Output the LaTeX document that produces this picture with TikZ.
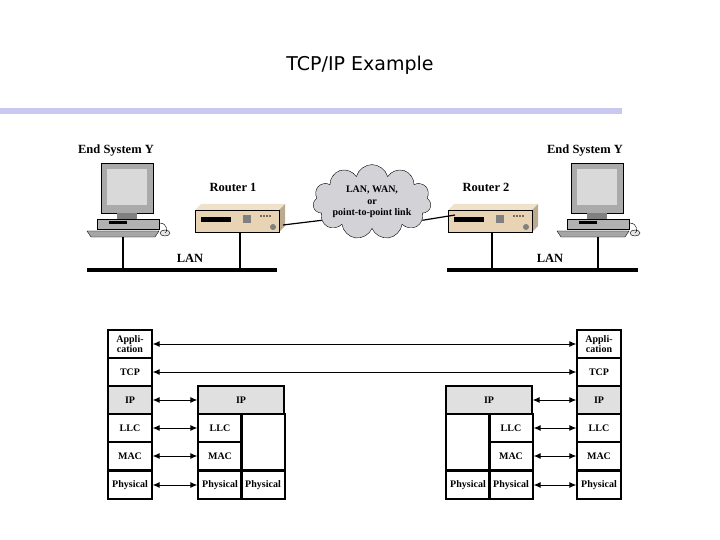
\documentclass[tikz,border=0pt]{standalone}
\usepackage{fontspec}
\setmainfont{Liberation Serif}
\newfontfamily\titlefont{DejaVu Sans}
\usetikzlibrary{shapes.symbols,arrows.meta}
\definecolor{barc}{RGB}{200,200,240}
\definecolor{beige}{RGB}{232,212,180}
\definecolor{cloudc}{RGB}{210,210,215}
\definecolor{ipgray}{RGB}{224,224,224}
\definecolor{pcgray}{RGB}{170,170,170}
\tikzset{
 lay/.style={draw,line width=1.2pt,minimum width=#1,minimum height=28pt,inner sep=0pt,font=\bfseries\fontsize{10}{10.5}\selectfont,align=center},
 lay/.default=44pt,
 lbl/.style={font=\bfseries\fontsize{12.5}{14}\selectfont},
 arr/.style={line width=1pt,{Latex[length=7pt,width=6pt]}-{Latex[length=7pt,width=6pt]}},
 bar/.style={line width=3.5pt},
 wire/.style={line width=1.2pt}
}
\newcommand{\pc}[2]{%
 \begin{scope}[shift={(#1,#2)}]
 \fill[pcgray] (14,0) rectangle (66,50);
 \fill[gray!30] (20,6) rectangle (60,42);
 \draw (14,0) rectangle (66,50);
 \fill[gray] (30,50) rectangle (50,56);
 \fill[gray!60,draw=black,thin] (10,56) rectangle (72,66);
 \fill[black] (22,58) rectangle (40,61);
 \fill[gray!70,draw=black,thin] (0,68) -- (72,68) -- (68,74) -- (4,74) -- cycle;
 \fill[gray!20,draw=black,thin] (78,70) ellipse (5 and 3);
 \draw[thin] (72,60) .. controls (82,60) and (80,70) .. (78,70);
 \end{scope}}
\newcommand{\router}[2]{%
 \begin{scope}[shift={(#1,#2)}]
 \fill[beige!70] (0,0) -- (6,-6) -- (90,-6) -- (84,0) -- cycle;
 \fill[beige] (0,0) rectangle (84,22);
 \fill[beige!80!black] (84,0) -- (90,-6) -- (90,16) -- (84,22) -- cycle;
 \draw (0,0) rectangle (84,22);
 \fill[black] (6,7) rectangle (36,12);
 \fill[gray] (48,5) rectangle (56,13);
 \foreach \i in {66,69,72,75} \fill (\i,6) circle (0.8);
 \fill[gray] (78,17) circle (3);
 \end{scope}}
\begin{document}
\begin{tikzpicture}[x=1pt,y=-1pt]
\useasboundingbox (0,0) rectangle (720,540);
\node[font=\titlefont\fontsize{19}{22}\selectfont] (title) at (360,65) {TCP/IP Example};
\fill[barc] (0,108) rectangle (622,114);
% top network
\node[lbl] (esl) at (116,151) {End System Y};
\node[lbl] (esr) at (585,151) {End System Y};
\node[lbl] (r1l) at (233,187) {Router 1};
\node[lbl] (r2l) at (486,187) {Router 2};
\pc{87}{163}
\pc{557}{163}
\router{195}{210}
\router{448}{210}
\node[cloud,cloud puffs=11,aspect=2.1,draw,fill=cloudc,minimum width=116pt,minimum height=62pt,inner sep=0pt,align=center,font=\bfseries\fontsize{10}{11.5}\selectfont] (cloud) at (372,202) {LAN, WAN,\\or\\point-to-point link};
\coordinate (r1p) at (283,225);
\coordinate (r2p) at (455,215);
\draw[wire] (r1p) -- (cloud.200);
\draw[wire] (cloud.340) -- (r2p);
\draw[bar] (87,270) -- (277,270);
\draw[bar] (447,270) -- (638,270);
\draw[wire] (123,237) -- (123,270);
\draw[wire] (240,232) -- (240,270);
\draw[wire] (492,232) -- (492,270);
\draw[wire] (598,237) -- (598,270);
\node[lbl] (lan1) at (190,258) {LAN};
\node[lbl] (lan2) at (550,258) {LAN};
% stacks
\foreach \s/\x in {L/130,R/599}{
 \node[lay] (\s a) at (\x,344) {Appli-\\cation};
 \node[lay] (\s t) at (\x,372) {TCP};
 \node[lay,fill=ipgray] (\s i) at (\x,400) {IP};
 \node[lay] (\s l) at (\x,428) {LLC};
 \node[lay] (\s m) at (\x,456) {MAC};
 \node[lay] (\s p) at (\x,485) {Physical};
}
% router 1 stack
\node[lay=86pt,fill=ipgray] (Ai) at (241,400) {IP};
\node[lay] (Al) at (220,428) {LLC};
\node[lay] (Am) at (220,456) {MAC};
\node[lay] (Ap) at (220,485) {Physical};
\node[lay,minimum height=56pt] (Ax) at (263,442) {};
\node[lay] (Ap2) at (263,485) {Physical};
% router 2 stack
\node[lay=86pt,fill=ipgray] (Bi) at (489,400) {IP};
\node[lay,minimum height=56pt] (Bx) at (468,442) {};
\node[lay] (Bp2) at (468,485) {Physical};
\node[lay] (Bl) at (511,428) {LLC};
\node[lay] (Bm) at (511,456) {MAC};
\node[lay] (Bp) at (511,485) {Physical};
% arrows
\draw[arr] (La) -- (Ra);
\draw[arr] (Lt) -- (Rt);
\draw[arr] (Li) -- (Ai);
\draw[arr] (Ll) -- (Al);
\draw[arr] (Lm) -- (Am);
\draw[arr] (Lp) -- (Ap);
\draw[arr] (Bi) -- (Ri);
\draw[arr] (Bl) -- (Rl);
\draw[arr] (Bm) -- (Rm);
\draw[arr] (Bp) -- (Rp);
\end{tikzpicture}
\end{document}
